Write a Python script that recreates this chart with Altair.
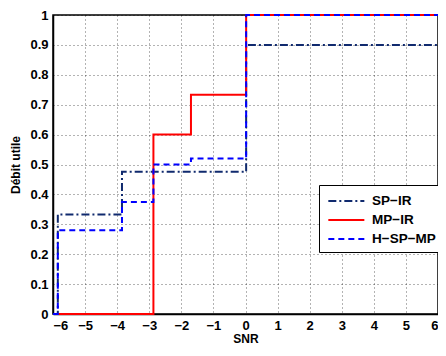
import altair as alt
import pandas as pd

series_names = ["SP\u2212IR", "MP\u2212IR", "H\u2212SP\u2212MP"]

sp_ir_x = [-6, -5.85, -3.85, 0.02, 6]
sp_ir_y = [0, 0.333, 0.476, 0.9, 0.9]

mp_ir_x = [-6, -2.87, -1.7, 0.02, 6]
mp_ir_y = [0, 0.6, 0.733, 1.0, 1.0]

h_x = [-6, -5.85, -3.85, -2.87, -1.7, 0.02, 6]
h_y = [0, 0.28, 0.375, 0.5, 0.52, 1.0, 1.0]

x_ticks = list(range(-6, 7))
y_ticks = [i / 10 for i in range(11)]

rows = []
for name, xs, ys in zip(series_names, [sp_ir_x, mp_ir_x, h_x], [sp_ir_y, mp_ir_y, h_y]):
    for i, (xv, yv) in enumerate(zip(xs, ys)):
        rows.append({"series": name, "snr": xv, "debit": yv, "order": i})
df = pd.DataFrame(rows)

font = "Liberation Sans"

chart = alt.Chart(df).mark_line(interpolate="step-after", strokeWidth=2).encode(
    x=alt.X("snr:Q", scale=alt.Scale(domain=[-6, 6], nice=False, zero=False),
            axis=alt.Axis(values=x_ticks, title="SNR", format="d")),
    y=alt.Y("debit:Q", scale=alt.Scale(domain=[0, 1], nice=False),
            axis=alt.Axis(values=y_ticks, title="Débit utile", format="~g")),
    color=alt.Color("series:N", scale=alt.Scale(domain=series_names,
                                                 range=["#102a6e", "#ff0000", "#0000ff"]),
                    legend=alt.Legend(title=None, orient="none", legendX=266, legendY=170,
                                      symbolType="M-0.77,0H3.39", symbolSize=300, symbolStrokeWidth=2,
                                      labelFont=font, labelFontWeight="bold", labelFontSize=13.5,
                                      labelColor="#000", strokeColor="#000", fillColor="#fff",
                                      padding=6, rowPadding=2, cornerRadius=0, labelOffset=27)),
    strokeDash=alt.StrokeDash("series:N", scale=alt.Scale(domain=series_names,
                                                          range=[[8, 3, 2, 3], [1, 0], [6, 4]]),
                              legend=None),
    order="order:Q",
    detail="series:N",
).properties(
    width=385, height=299,
    autosize=alt.AutoSizeParams(type="none"),
    padding={"left": 45, "top": 7, "right": 0, "bottom": 34},
).configure_view(
    stroke="#000", strokeWidth=1.5
).configure_axis(
    labelFont=font, labelFontWeight="bold", labelFontSize=13, labelColor="#000",
    titleFont=font, titleFontWeight="bold", titleFontSize=12, titleColor="#000",
    domainColor="#000", domainWidth=1.5, tickSize=0, labelPadding=5,
    grid=True, gridColor="#000", gridDash=[1, 3], gridOpacity=0.6, gridWidth=1,
).configure_axisX(
    labelPadding=5, titlePadding=1,
).configure_axisY(
    titlePadding=7,
)

chart.save("out.html", embed_options={"renderer": "svg", "actions": False})
